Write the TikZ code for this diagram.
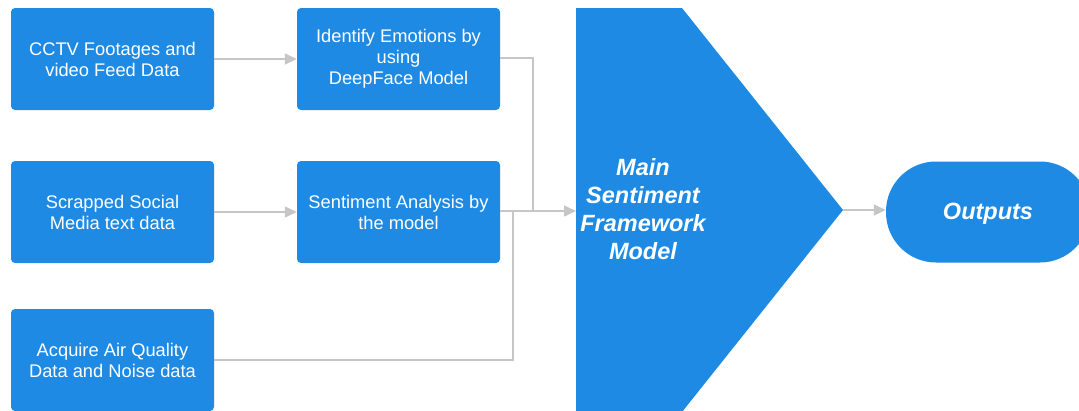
\documentclass[tikz,border=0pt]{standalone}
\usepackage{fontspec}
\setmainfont{Liberation Sans}
\usetikzlibrary{arrows.meta}
\definecolor{boxblue}{HTML}{1E8AE3}
\definecolor{linegray}{HTML}{C6C6C6}
\tikzset{
  box/.style={fill=boxblue, draw=none, rounded corners=4pt, minimum width=203pt, minimum height=102pt,
    text=white, align=center, font=\fontsize{18.3}{21}\selectfont, inner sep=0pt},
  conn/.style={draw=linegray, line width=1.5pt, -{Triangle[length=12pt,width=11pt]}},
  plain/.style={draw=linegray, line width=1.5pt},
  bigtext/.style={text=white, align=center, font=\fontsize{23.5}{28}\selectfont\bfseries\itshape}
}
\begin{document}
\begin{tikzpicture}[x=1pt,y=-1pt]
\useasboundingbox (0,0) rectangle (1079,410);
\clip (0,0) rectangle (1079,410);
\node[box] (cctv) at (112.5,59) {CCTV Footages and\\video Feed Data};
\node[box] (ident) at (398.5,59) {Identify Emotions by\\using\\DeepFace Model};
\node[box] (social) at (112.5,212) {Scrapped Social\\Media text data};
\node[box] (senti) at (398.5,212) {Sentiment Analysis by\\the model};
\node[box] (air) at (112.5,360) {Acquire Air Quality\\Data and Noise data};
% pentagon
\fill[boxblue] (576,8) -- (682,8) -- (843,210) -- (682,412) -- (576,412) -- cycle;
\coordinate (pin) at (576,211);
\coordinate (ptip) at (843,210);
\node[bigtext] (main) at (643,209) {Main\\Sentiment\\Framework\\Model};
\node[fill=boxblue, rounded corners=50pt, minimum width=204pt, minimum height=101pt, inner sep=0pt] (out) at (988,212) {};
\node[bigtext] (outlbl) at (988,214) {Outputs};
% connectors
\draw[conn] (cctv.east) -- (ident.west);
\draw[conn] (social.east) -- (senti.west);
\draw[plain] (ident.east |- 0,58) -- (533,58) -- (533,211);
\draw[plain] (air.east |- 0,360) -- (513,360) -- (513,211);
\draw[conn] (senti.east |- 0,211) -- (pin);
\draw[conn] (ptip) -- (out.west |- ptip);
\end{tikzpicture}
\end{document}
